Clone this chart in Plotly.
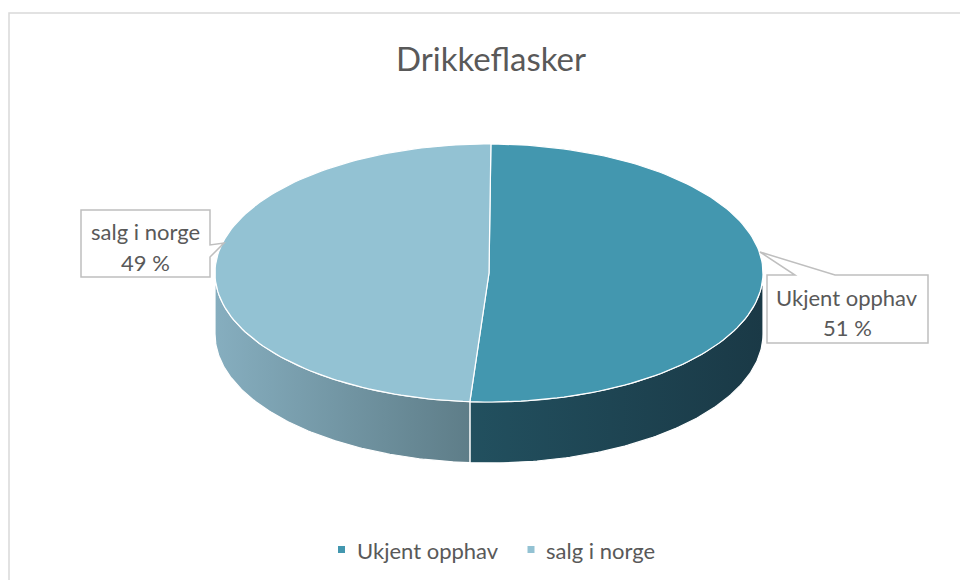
import math
import plotly.graph_objects as go

# ---- data ----
title = "Drikkeflasker"
categories = ["Ukjent opphav", "salg i norge"]
values = [51, 49]
top_colors = ["#4397AF", "#93C2D3"]
side_gradients = [["#22505F", "#1A3946"], ["#86AEBF", "#5E7D88"]]

# ---- geometry (pixel layout) ----
W, H = 960, 580
cx, cy, a, b, depth = 489, 273, 274, 129, 61
start = 89.6  # degrees, slices run clockwise


def pt(t, dy=0.0):
    r = math.radians(t)
    return cx + a * math.cos(r), cy - b * math.sin(r) + dy


def arc(t1, t2, dy=0.0, n=120):
    xs, ys = [], []
    for i in range(n + 1):
        t = t1 + (t2 - t1) * i / n
        x, y = pt(t, dy)
        xs.append(x)
        ys.append(y)
    return xs, ys


total = sum(values)
spans = []
t = start
for v in values:
    t_end = t - 360.0 * v / total
    spans.append((t, t_end))
    t = t_end

fig = go.Figure()

# side faces (front half: angles between -180 and 0)
for (t1, t2), grad in zip(spans, side_gradients):
    lo, hi = min(t1, t2), max(t1, t2)
    segs = []
    for shift in (0, -360, 360):
        s_lo, s_hi = max(lo + shift, -180), min(hi + shift, 0)
        if s_hi > s_lo:
            segs.append((s_hi, s_lo))
    for s1, s2 in segs:
        xt, yt = arc(s1, s2)
        xb, yb = arc(s2, s1, dy=depth)
        fig.add_trace(go.Scatter(
            x=xt + xb + [xt[0]], y=yt + yb + [yt[0]],
            mode="lines", fill="toself",
            fillgradient=dict(type="horizontal",
                              colorscale=[[0, grad[0]], [1, grad[1]]]),
            line=dict(color="white", width=1.2),
            hoverinfo="skip", showlegend=False))

# top faces
for (t1, t2), col, name in zip(spans, top_colors, categories):
    xs, ys = arc(t1, t2)
    fig.add_trace(go.Scatter(
        x=[cx] + xs + [cx], y=[cy] + ys + [cy],
        mode="lines", fill="toself", fillcolor=col,
        line=dict(color="white", width=1.2),
        name=name, hoverinfo="skip", showlegend=False))

# legend markers
legend_x = [341.5, 531]
for name, col, lx in zip(categories, top_colors, legend_x):
    fig.add_trace(go.Scatter(
        x=[lx], y=[549.5], mode="markers",
        marker=dict(symbol="square", size=7, color=col),
        hoverinfo="skip", showlegend=False))

font_col = "#595959"
ann = []
ann.append(dict(x=491, y=58, text=title, showarrow=False,
                font=dict(family="Lato", size=33, color=font_col)))
# data labels
label_pos = [(847, 297, 327), (145, 231, 262)]
for name, v, (lx, y1, y2) in zip(categories, values, label_pos):
    pct = round(100 * v / total)
    ann.append(dict(x=lx, y=y1, text=name, showarrow=False,
                    font=dict(family="Lato", size=22, color=font_col)))
    ann.append(dict(x=lx, y=y2, text=f"{pct} %", showarrow=False,
                    font=dict(family="Lato", size=22, color=font_col)))
# legend texts
legend_tx = [355, 544]
for name, tx in zip(categories, legend_tx):
    ann.append(dict(x=tx, y=550, text=name, showarrow=False, xanchor="left",
                    font=dict(family="Lato", size=22, color=font_col)))

shapes = [
    dict(type="rect", x0=9, y0=13, x1=975, y1=600, xref="x", yref="y",
         line=dict(color="#D9D9D9", width=1.5), layer="below"),
    dict(type="path", xref="x", yref="y",
         path="M 81,210 L 210,210 L 210,245 L 224,243 L 210,257 L 210,277 L 81,277 Z",
         fillcolor="white", line=dict(color="#BFBFBF", width=1.5), layer="above"),
    dict(type="path", xref="x", yref="y",
         path="M 767,275 L 795,275 L 760,252 L 835,275 L 928,275 L 928,343 L 767,343 Z",
         fillcolor="white", line=dict(color="#BFBFBF", width=1.5), layer="above"),
]

fig.update_layout(
    width=W, height=H, margin=dict(l=0, r=0, t=0, b=0),
    paper_bgcolor="white", plot_bgcolor="white",
    xaxis=dict(range=[0, W], visible=False, fixedrange=True),
    yaxis=dict(range=[H, 0], visible=False, fixedrange=True),
    annotations=ann, shapes=shapes, showlegend=False,
)

fig.write_html("out.html", config={"displayModeBar": False},
               post_script="document.body.style.margin='0';document.body.style.overflow='hidden';")
